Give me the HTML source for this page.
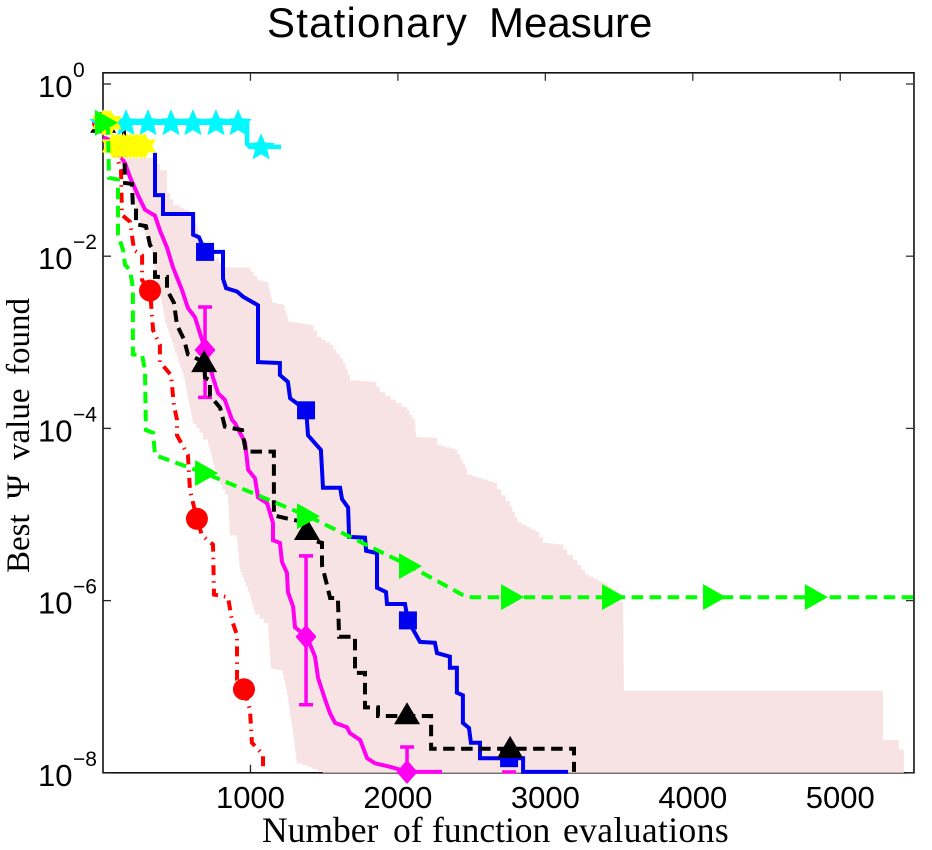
<!DOCTYPE html>
<html>
<head>
<meta charset="utf-8">
<title>Stationary Measure</title>
<style>
html,body{margin:0;padding:0;background:#fff;}
svg{display:block;}
text{fill:#000;}
.sans{font-family:"Liberation Sans",sans-serif;}
.serif{font-family:"Liberation Serif",serif;}
</style>
</head>
<body>
<svg id="chart" xmlns="http://www.w3.org/2000/svg" width="932" height="850" viewBox="0 0 932 850">
  <rect x="0" y="0" width="932" height="850" fill="#fff"/>
  <text class="sans" y="37" font-size="42"><tspan x="267" style="letter-spacing:1.2px">Stationary</tspan> <tspan x="489">Measure</tspan></text>
  <text class="serif" y="842" font-size="35.5"><tspan x="262">Number</tspan> <tspan x="393">of</tspan> <tspan x="432">function</tspan> <tspan x="563" style="letter-spacing:0.4px">evaluations</tspan></text>
  <text class="serif" transform="translate(29,573) rotate(-90)" font-size="33"><tspan x="0">Best</tspan> <tspan x="74">Ψ</tspan> <tspan x="113">value</tspan> <tspan x="198">found</tspan></text>
  <g id="axes"></g>
  <g id="marks"></g>
  <g id="labels"></g>
</svg>
<script>
var xTickValues = [1000, 2000, 3000, 4000, 5000];
var yTickExponents = [0, -2, -4, -6, -8];
var xDomain = [0, 5500];
var yDomainLog = [0.13, -8];

var bandUpperEvals = [353,386,434,434,475,523,611,658,814,977,1045,1113,1146,1221,1254,1404,1452,1540,1627,1675,1831,1878,2061,2115,2123,2251,2265,2387,2455,2469,2646,2672,2760,2808,2931,2984,3099,3147,3188,3270,3391,3486,3527,3533,5290,5290,5398,5398,5432,5432];
var bandUpperLog = [-0.86,-1.00,-1.00,-1.27,-1.41,-1.44,-1.51,-1.81,-2.13,-2.13,-2.28,-2.31,-2.54,-2.57,-2.76,-2.80,-2.94,-3.03,-3.24,-3.44,-3.46,-3.58,-3.79,-3.94,-4.10,-4.11,-4.19,-4.25,-4.46,-4.54,-4.63,-4.71,-4.91,-5.09,-5.20,-5.33,-5.35,-5.47,-5.53,-5.70,-5.80,-5.91,-6.07,-7.05,-7.05,-7.62,-7.62,-7.73,-7.73,-8.00];
var bandLowerEvals = [115,149,203,251,319,353,386,421,556,576,611,678,712,773,848,861,909,930,984,1031,1120,1140,1221,1248,1289,1316,1526];
var bandLowerLog = [-0.86,-0.94,-1.29,-1.58,-1.81,-2.13,-2.39,-2.72,-3.41,-3.61,-3.90,-4.05,-4.13,-4.54,-4.77,-5.18,-5.24,-5.61,-5.84,-6.11,-6.26,-6.78,-6.81,-7.04,-7.50,-7.87,-8.00];

var blueEvals = [353,353,407,407,611,611,651,692,814,814,835,909,950,1051,1051,1200,1200,1254,1269,1316,1377,1383,1390,1478,1492,1608,1621,1662,1669,1777,1784,1858,1858,1919,1926,2048,2068,2150,2251,2265,2353,2353,2400,2400,2441,2441,2482,2495,2557,2557,2849,2849,3154];
var blueLog = [-0.80,-1.29,-1.29,-1.51,-1.51,-1.75,-1.78,-1.95,-1.95,-2.26,-2.37,-2.41,-2.47,-2.57,-3.23,-3.24,-3.38,-3.46,-3.65,-3.71,-3.79,-3.90,-4.08,-4.25,-4.69,-4.69,-4.82,-4.92,-5.26,-5.27,-5.42,-5.45,-5.85,-5.90,-6.04,-6.04,-6.23,-6.48,-6.49,-6.61,-6.65,-6.78,-6.78,-7.07,-7.10,-7.42,-7.48,-7.65,-7.65,-7.83,-7.83,-7.99,-7.99];
var blueMarkEvals = [692,1377,2068,2754];
var blueMarkLog = [-1.95,-3.79,-6.23,-7.83];

var redEvals = [7,88,122,129,183,211,265,265,319,340,386,386,461,481,502,502,576,590,637,671,746,753,848,875,909,909,956,997,1010,1085,1085];
var redLog = [-0.48,-0.82,-1.00,-1.52,-1.60,-1.93,-1.99,-2.28,-2.39,-2.86,-3.03,-3.23,-3.38,-3.73,-3.90,-4.08,-4.31,-4.72,-5.05,-5.24,-5.35,-5.93,-5.96,-6.23,-6.40,-6.92,-7.03,-7.27,-7.65,-7.79,-7.99];
var redMarkEvals = [1,319,637,956];
var redMarkLog = [-0.45,-2.40,-5.05,-7.03];

var magentaEvals = [1,48,149,183,237,285,353,386,434,475,535,576,624,686,746,780,827,875,895,963,984,1031,1051,1113,1153,1153,1200,1214,1248,1254,1289,1302,1383,1438,1459,1506,1540,1574,1655,1675,1744,1791,1845,1947,2068,2299];
var magentaLog = [-0.62,-0.65,-0.92,-1.08,-1.29,-1.46,-1.53,-1.70,-1.90,-2.13,-2.39,-2.60,-2.71,-3.05,-3.41,-3.59,-3.67,-3.90,-3.94,-4.16,-4.48,-4.58,-4.80,-4.87,-5.10,-5.30,-5.33,-5.55,-5.68,-5.90,-6.07,-6.31,-6.42,-6.65,-6.90,-7.15,-7.31,-7.42,-7.47,-7.54,-7.62,-7.83,-7.89,-7.93,-7.99,-7.99];
var magentaMarkEvals = [1,692,1377,2062];
var magentaMarkLog = [-0.45,-3.09,-6.42,-7.99];
var errorEvals = [692,1377,2062,2754];
var errorHighLog = [-2.59,-5.48,-7.70,-7.99];
var errorLowLog = [-3.64,-7.21,-7.99,-7.99];

var blackEvals = [21,142,149,196,203,224,224,291,319,353,353,434,434,481,502,550,576,686,692,725,725,794,827,943,969,1159,1159,1282,1383,1424,1485,1485,1519,1540,1593,1601,1709,1709,1777,1777,1865,1865,2225,2225,3194,3194];
var blackLog = [-0.48,-0.50,-1.15,-1.16,-1.42,-1.43,-1.63,-1.65,-1.87,-1.95,-2.24,-2.24,-2.39,-2.54,-2.80,-2.97,-3.14,-3.23,-3.41,-3.44,-3.62,-3.76,-3.98,-4.02,-4.27,-4.27,-5.01,-5.06,-5.09,-5.30,-5.33,-5.59,-5.82,-5.97,-5.97,-6.42,-6.42,-6.84,-6.84,-7.24,-7.24,-7.34,-7.34,-7.72,-7.72,-7.99];
var blackMarkEvals = [1,686,1383,2062,2761];
var blackMarkLog = [-0.45,-3.23,-5.18,-7.32,-7.71];

var cyanEvals = [1,977,977,997,1207];
var cyanLog = [-0.45,-0.45,-0.70,-0.73,-0.73];
var cyanMarkEvals = [1,156,305,461,610,766,916,1072];
var cyanMarkLog = [-0.46,-0.46,-0.46,-0.46,-0.46,-0.46,-0.46,-0.74];

var yellowEvals = [1,17,34,50,68,92,116,140,163,187,210,234,258,282];
var yellowLog = [-0.45,-0.45,-0.45,-0.45,-0.72,-0.72,-0.72,-0.72,-0.72,-0.72,-0.72,-0.72,-0.72,-0.72];

var greenEvals = [1,34,41,102,102,136,149,183,203,203,265,285,291,339,353,692,1390,2082,2435,2502,5500];
var greenLog = [-0.48,-0.53,-1.09,-1.11,-1.75,-1.93,-2.10,-2.16,-2.37,-3.14,-3.15,-3.32,-4.02,-4.05,-4.31,-4.52,-5.02,-5.60,-5.93,-5.96,-5.96];
var greenMarkEvals = [20,699,1390,2082,2774,3459,4144,4835];
var greenMarkLog = [-0.45,-4.52,-5.02,-5.60,-5.96,-5.96,-5.96,-5.96];

var NS = 'http://www.w3.org/2000/svg';
function xScale(v){ return 103 + 0.14745 * v; }
function yScale(v){ return 84 - 86.1 * v; }
var plotLeft = xScale(xDomain[0]), plotRight = xScale(xDomain[1]);
var plotTop = yScale(yDomainLog[0]), plotBottom = yScale(yDomainLog[1]);

function make(tag, attrs, parent){
  var el = document.createElementNS(NS, tag);
  for (var k in attrs) el.setAttribute(k, attrs[k]);
  parent.appendChild(el);
  return el;
}
function pointsOf(xs, ys){
  var out = [];
  for (var i = 0; i < xs.length; i++) out.push(xScale(xs[i]).toFixed(1) + ',' + yScale(ys[i]).toFixed(1));
  return out;
}
function stairsOf(xs, ys, horizontalFirst){
  var out = [xScale(xs[0]).toFixed(1) + ',' + yScale(ys[0]).toFixed(1)];
  for (var i = 1; i < xs.length; i++){
    var x0 = xScale(xs[i - 1]), y0 = yScale(ys[i - 1]), x1 = xScale(xs[i]), y1 = yScale(ys[i]);
    var n = Math.max(1, Math.round(Math.max(Math.abs(x1 - x0), Math.abs(y1 - y0)) / 5));
    for (var j = 1; j <= n; j++){
      var xa = x0 + (x1 - x0) * (j - 1) / n, xb = x0 + (x1 - x0) * j / n;
      var ya = y0 + (y1 - y0) * (j - 1) / n, yb = y0 + (y1 - y0) * j / n;
      if (horizontalFirst) out.push(xb.toFixed(1) + ',' + ya.toFixed(1));
      else out.push(xa.toFixed(1) + ',' + yb.toFixed(1));
      out.push(xb.toFixed(1) + ',' + yb.toFixed(1));
    }
  }
  return out;
}
function starPoints(cx, cy, r){
  var out = [];
  for (var i = 0; i < 10; i++){
    var a = -Math.PI / 2 + i * Math.PI / 5, rr = i % 2 ? r * 0.45 : r;
    out.push((cx + rr * Math.cos(a)).toFixed(1) + ',' + (cy + rr * Math.sin(a)).toFixed(1));
  }
  return out.join(' ');
}
function hexagramPoints(cx, cy, r){
  var out = [];
  for (var i = 0; i < 12; i++){
    var a = -Math.PI / 2 + i * Math.PI / 6, rr = i % 2 ? r / Math.sqrt(3) : r;
    out.push((cx + rr * Math.cos(a)).toFixed(1) + ',' + (cy + rr * Math.sin(a)).toFixed(1));
  }
  return out.join(' ');
}

var axes = document.getElementById('axes');
var marks = document.getElementById('marks');
var labels = document.getElementById('labels');

var frame = make('rect', {x: plotLeft, y: plotTop, width: plotRight - plotLeft, height: plotBottom - plotTop, fill: 'none', stroke: '#111', 'stroke-width': 1.6}, axes);



xTickValues.forEach(function(v){
  var px = xScale(v);
  var bottomTick = make('line', {x1: px, x2: px, y1: plotBottom, y2: plotBottom - 8, stroke: '#222', 'stroke-width': 1.3}, axes);
  
  
  var topTick = make('line', {x1: px, x2: px, y1: plotTop, y2: plotTop + 8, stroke: '#333', 'stroke-width': 1.3}, axes);
  
  
  var label = make('text', {x: px, y: 808, 'text-anchor': 'middle', 'font-size': 31, 'class': 'sans'}, labels);
  
  
  label.textContent = String(v);
});

yTickExponents.forEach(function(v){
  var py = yScale(v);
  var leftTick = make('line', {x1: plotLeft, x2: plotLeft + 8, y1: py, y2: py, stroke: '#222', 'stroke-width': 1.3}, axes);
  
  
  var rightTick = make('line', {x1: plotRight, x2: plotRight - 8, y1: py, y2: py, stroke: '#333', 'stroke-width': 1.3}, axes);
  
  
  var base = make('text', {x: 38, y: py + 13, 'font-size': 31, 'class': 'sans'}, labels);
  
  
  base.textContent = '10';
  var exponent = make('text', {x: 73, y: py - 7, 'font-size': 21, 'class': 'sans'}, labels);
  
  
  exponent.textContent = v < 0 ? '\u2212' + Math.abs(v) : String(v);
});

var bandPts = stairsOf(bandUpperEvals, bandUpperLog, true).concat(stairsOf(bandLowerEvals, bandLowerLog, false).reverse());
var band = make('polygon', {points: bandPts.join(' '), fill: '#f8e3e4', stroke: 'none'}, marks);



function drawLine(xs, ys, color, width, dash){
  var attrs = {points: pointsOf(xs, ys).join(' '), fill: 'none', stroke: color, 'stroke-width': width, 'stroke-linejoin': 'miter'};
  if (dash) attrs['stroke-dasharray'] = dash;
  return make('polyline', attrs, marks);
}

/* blue */
var blueLine = drawLine(blueEvals, blueLog, '#0000f0', 4);


blueMarkEvals.forEach(function(v, i){
  var px = xScale(v), py = yScale(blueMarkLog[i]);
  var m = make('rect', {x: px - 9, y: py - 9, width: 18, height: 18, fill: '#0000f0'}, marks);
  
  
});

/* red */
var redLine = drawLine(redEvals, redLog, '#ff0000', 4, '10 6 1.5 6');


redMarkEvals.forEach(function(v, i){
  var m = make('circle', {cx: xScale(v), cy: yScale(redMarkLog[i]), r: 11, fill: '#ff0000'}, marks);
  
  
});

/* magenta */
var magentaLine = drawLine(magentaEvals, magentaLog, '#ff00f0', 4);


errorEvals.forEach(function(v, i){
  var px = xScale(v), hi = yScale(errorHighLog[i]), lo = yScale(errorLowLog[i]);
  var d = 'M' + px + ' ' + hi + 'V' + lo + 'M' + (px - 7) + ' ' + hi + 'H' + (px + 7) + 'M' + (px - 7) + ' ' + lo + 'H' + (px + 7);
  var e = make('path', {d: d, fill: 'none', stroke: '#ff00f0', 'stroke-width': 3.5}, marks);
  
  
});
magentaMarkEvals.forEach(function(v, i){
  var px = xScale(v), py = yScale(magentaMarkLog[i]);
  var pts = px + ',' + (py - 12) + ' ' + (px + 10.5) + ',' + py + ' ' + px + ',' + (py + 12) + ' ' + (px - 10.5) + ',' + py;
  var m = make('polygon', {points: pts, fill: '#ff00f0'}, marks);
  
  
});

/* black */
var blackLine = drawLine(blackEvals, blackLog, '#000', 4, '11.5 6.5');


blackMarkEvals.forEach(function(v, i){
  var px = xScale(v), py = yScale(blackMarkLog[i]);
  var pts = px + ',' + (py - 12) + ' ' + (px + 13) + ',' + (py + 10) + ' ' + (px - 13) + ',' + (py + 10);
  var m = make('polygon', {points: pts, fill: '#000'}, marks);
  
  
});

/* cyan */
var cyanLine = drawLine(cyanEvals, cyanLog, '#00f8ff', 4.5);


cyanMarkEvals.forEach(function(v, i){
  var m = make('polygon', {points: starPoints(xScale(v), yScale(cyanMarkLog[i]), 14.5), fill: '#00f8ff'}, marks);
  
  
});

/* yellow */
yellowEvals.forEach(function(v, i){
  var m = make('polygon', {points: hexagramPoints(xScale(v), yScale(yellowLog[i]), 13), fill: '#ffff00'}, marks);
  
  
});

/* green */
var greenLine = drawLine(greenEvals, greenLog, '#00ff00', 4, '11.5 6.5');


greenMarkEvals.forEach(function(v, i){
  var px = xScale(v), py = yScale(greenMarkLog[i]);
  var pts = (px - 11) + ',' + (py - 13) + ' ' + (px + 12) + ',' + py + ' ' + (px - 11) + ',' + (py + 13);
  var m = make('polygon', {points: pts, fill: '#00ff00'}, marks);
  
  
});
</script>
</body>
</html>
